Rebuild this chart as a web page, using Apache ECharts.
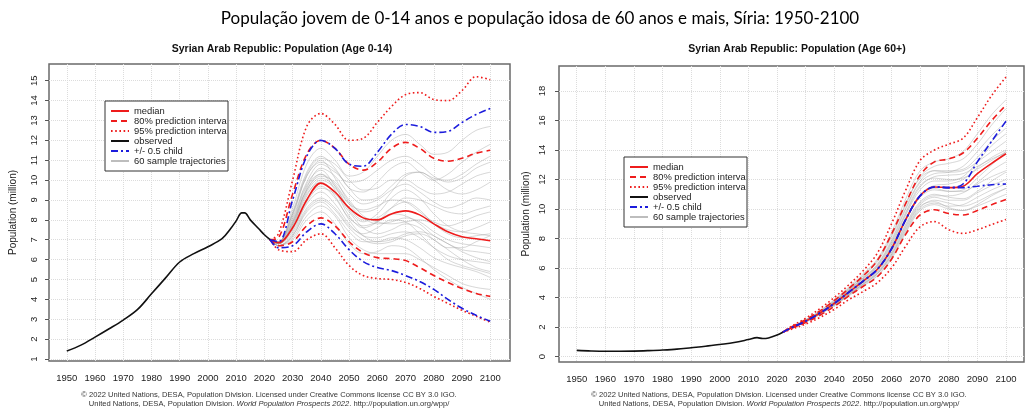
<!DOCTYPE html>
<html>
<head>
<meta charset="utf-8">
<script src="https://cdn.jsdelivr.net/npm/echarts@6/dist/echarts.min.js"></script>
<style>
html,body{margin:0;padding:0;background:#fff;}
#chart{width:1029px;height:411px;}
</style>
</head>
<body>
<div id="chart"></div>
<script>
// ---------- tick labels ----------
const xTicks = [1950,1960,1970,1980,1990,2000,2010,2020,2030,2040,2050,2060,2070,2080,2090,2100];
const yTicksYoung = [1,2,3,4,5,6,7,8,9,10,11,12,13,14,15];
const yTicksOld = [0,2,4,6,8,10,12,14,16,18];
const legendNames = ['median','80% prediction interval','95% prediction interval','observed','+/- 0.5 child','60 sample trajectories'];

// ---------- Age 0-14 (million) ----------
const obsYearsYoung = [1950,1955,1960,1965,1970,1975,1980,1985,1990,1995,2000,2005,2008,2010,2012,2013,2015,2018,2020,2022];
const obsYoung = [1.40,1.70,2.10,2.52,2.96,3.48,4.28,5.08,5.88,6.30,6.65,7.05,7.55,7.95,8.35,8.35,8.00,7.55,7.25,7.00];

const projYears = [2022,2025,2030,2035,2040,2045,2050,2055,2060,2065,2070,2075,2080,2085,2090,2095,2100];
const medianYoung  = [7.0,6.85,7.6,9.0,9.85,9.4,8.6,8.1,8.0,8.3,8.45,8.25,7.8,7.4,7.15,7.05,6.95];
const pi80HiYoung  = [7.0,7.1,9.3,11.3,12.0,11.6,10.8,10.5,10.9,11.6,11.9,11.6,11.1,10.95,11.1,11.35,11.5];
const pi80LoYoung  = [7.0,6.7,6.9,7.7,8.1,7.7,6.9,6.35,6.1,6.05,5.95,5.6,5.2,4.85,4.55,4.3,4.15];
const pi95HiYoung  = [7.0,7.3,10.0,12.7,13.35,12.8,12.0,12.1,12.9,13.7,14.3,14.4,14.05,14.0,14.5,15.2,15.05];
const pi95LoYoung  = [7.0,6.5,6.4,7.0,7.3,6.6,5.7,5.2,5.05,5.0,4.85,4.55,4.15,3.8,3.45,3.15,2.85];
const childHiYoung = [7.0,6.9,9.0,11.2,12.0,11.6,10.8,10.7,11.4,12.3,12.8,12.7,12.4,12.45,12.9,13.3,13.6];
const childLoYoung = [7.0,6.6,6.7,7.4,7.8,7.3,6.5,5.9,5.6,5.45,5.2,4.9,4.5,4.0,3.55,3.2,2.9];
const samplesYoung = [
  [7.0,6.8,7.8,9.6,10.6,10.2,9.3,8.8,9.0,9.5,9.8,9.4,8.9,8.6,8.8,9.1,9.0],
  [7.0,6.9,8.4,10.4,11.2,10.6,9.6,9.4,9.9,10.6,10.9,10.4,10.0,10.3,10.9,11.4,11.8],
  [7.0,6.7,7.2,8.4,8.9,8.3,7.4,6.9,6.9,7.1,7.0,6.6,6.1,5.8,5.6,5.4,5.1],
  [7.0,6.8,7.6,9.2,10.0,9.6,8.6,8.0,8.1,8.6,8.9,8.5,7.8,7.3,7.1,7.2,7.3],
  [7.0,6.9,8.1,9.9,10.8,10.4,9.9,10.0,10.5,11.0,11.2,10.8,10.2,9.9,10.1,10.6,10.9],
  [7.0,6.7,7.0,8.0,8.4,7.8,6.8,6.3,6.4,6.7,6.6,6.1,5.5,5.0,4.6,4.3,4.0],
  [7.0,6.8,7.9,9.7,10.3,9.5,8.2,7.6,7.9,8.6,9.1,9.0,8.7,8.4,8.3,8.5,8.7],
  [7.0,6.9,8.6,10.8,11.6,11.0,10.2,10.4,11.2,12.0,12.3,11.8,11.3,11.4,12.0,12.5,12.7],
  [7.0,6.8,7.4,8.8,9.4,8.8,7.8,7.2,7.1,7.3,7.4,7.1,6.6,6.2,6.0,5.9,5.8],
  [7.0,6.8,7.7,9.3,9.9,9.2,8.0,7.2,6.9,7.0,7.3,7.4,7.2,6.8,6.5,6.4,6.3],
  [7.0,6.9,8.2,10.2,11.0,10.1,8.9,8.4,8.6,9.4,10.2,10.4,10.0,9.5,9.3,9.5,9.9],
  [7.0,6.7,7.3,8.6,9.1,8.6,7.7,7.3,7.6,8.0,7.9,7.3,6.6,6.0,5.7,5.5,5.3],
  [7.0,6.8,7.9,9.5,10.2,9.9,9.0,8.2,7.9,7.8,7.9,8.0,7.8,7.5,7.4,7.6,7.9],
  [7.0,6.9,8.0,9.8,10.5,9.7,8.5,7.9,8.3,9.1,9.5,9.1,8.3,7.7,7.4,7.3,7.2],
  [7.0,6.8,7.5,8.9,9.6,9.3,8.4,7.6,7.3,7.5,7.8,7.6,7.0,6.6,6.6,6.9,7.2],
  [7.0,6.7,7.1,8.2,8.7,8.2,7.1,6.5,6.3,6.3,6.3,6.0,5.6,5.2,4.8,4.6,4.5],
  [7.0,6.9,8.3,10.2,10.9,10.5,9.6,9.0,9.1,9.7,10.3,10.4,10.1,10.0,10.3,10.8,11.2],
  [7.0,6.8,7.6,9.0,9.7,9.1,8.1,7.7,7.9,8.3,8.2,7.8,7.2,6.8,6.4,6.1,5.9],
  [7.0,6.8,7.7,9.4,10.1,9.7,8.8,8.5,8.7,9.0,8.9,8.4,7.9,7.7,7.9,8.2,8.4],
  [7.0,6.7,7.2,8.5,9.0,8.5,7.6,7.0,6.8,6.9,7.2,7.3,7.0,6.5,6.0,5.6,5.4],
  [7.0,6.9,8.3,10.3,11.1,10.8,10.0,9.5,9.6,10.0,10.0,9.6,9.3,9.4,9.8,10.2,10.4],
  [7.0,6.8,7.8,9.5,10.3,9.8,8.8,8.1,7.8,7.9,8.1,7.9,7.4,7.0,6.8,6.7,6.6]
];

// ---------- Age 60+ (million) ----------
const obsYearsOld = [1950,1955,1960,1965,1970,1975,1980,1985,1990,1995,2000,2005,2010,2013,2015,2017,2020,2022];
const obsOld = [0.42,0.38,0.36,0.36,0.37,0.40,0.44,0.50,0.60,0.70,0.82,0.95,1.15,1.28,1.22,1.26,1.46,1.65];
const medianOld  = [1.65,1.95,2.4,2.95,3.6,4.35,5.1,5.9,7.3,9.3,10.9,11.5,11.45,11.55,12.4,13.1,13.75];
const pi80HiOld  = [1.65,2.0,2.5,3.1,3.8,4.6,5.45,6.5,8.3,10.4,12.3,13.2,13.4,13.8,14.8,16.0,17.05];
const pi80LoOld  = [1.65,1.9,2.3,2.8,3.4,4.1,4.75,5.4,6.6,8.3,9.6,9.95,9.7,9.6,9.9,10.3,10.65];
const pi95HiOld  = [1.65,2.05,2.6,3.25,4.0,4.85,5.8,7.0,9.0,11.3,13.3,14.0,14.4,14.8,16.2,17.7,18.95];
const pi95LoOld  = [1.65,1.85,2.2,2.65,3.2,3.85,4.4,5.0,6.0,7.5,8.8,9.15,8.6,8.35,8.6,8.95,9.3];
const childHiOld = [1.65,1.95,2.4,2.95,3.6,4.35,5.1,5.9,7.3,9.3,10.9,11.5,11.45,11.7,13.2,14.6,15.95];
const childLoOld = [1.65,1.95,2.4,2.95,3.6,4.35,5.1,5.9,7.3,9.3,10.9,11.5,11.45,11.45,11.55,11.65,11.7];
const samplesOld = [
  [1.65,1.97,2.45,3.0,3.7,4.5,5.3,6.2,7.8,10.0,11.8,12.4,12.5,12.9,13.9,15.0,15.9],
  [1.65,1.93,2.35,2.9,3.5,4.2,4.9,5.6,6.9,8.8,10.3,10.8,10.6,10.6,11.1,11.6,12.0],
  [1.65,1.96,2.42,2.98,3.65,4.45,5.2,6.05,7.5,9.6,11.3,11.9,11.9,12.2,13.2,14.3,15.1],
  [1.65,1.94,2.38,2.92,3.55,4.25,5.0,5.75,7.1,9.0,10.5,11.0,10.8,10.7,11.2,11.9,12.5],
  [1.65,1.98,2.48,3.05,3.75,4.6,5.45,6.4,8.1,10.3,12.2,12.9,13.1,13.4,14.4,15.7,16.8],
  [1.65,1.92,2.33,2.85,3.45,4.1,4.75,5.45,6.6,8.4,9.9,10.3,10.0,9.9,10.2,10.6,11.0],
  [1.65,1.95,2.41,2.96,3.62,4.38,5.15,5.95,7.4,9.4,11.0,11.6,11.7,12.0,12.8,13.5,14.0],
  [1.65,1.96,2.43,2.99,3.68,4.48,5.25,6.1,7.6,9.7,11.5,12.2,12.3,12.4,12.9,13.4,13.8],
  [1.65,1.94,2.37,2.91,3.53,4.22,4.95,5.7,7.0,8.9,10.4,10.9,10.9,11.1,11.7,12.2,12.6],
  [1.65,1.97,2.46,3.02,3.72,4.55,5.35,6.25,7.9,10.1,11.9,12.6,12.6,12.7,13.5,14.6,15.5],
  [1.65,1.93,2.36,2.89,3.5,4.18,4.88,5.6,6.8,8.6,10.1,10.6,10.4,10.2,10.5,11.0,11.4],
  [1.65,1.95,2.39,2.94,3.58,4.32,5.08,5.85,7.2,9.2,10.8,11.3,11.2,11.2,11.8,12.6,13.2],
  [1.65,1.99,2.5,3.1,3.85,4.7,5.6,6.6,8.4,10.7,12.6,13.2,13.4,13.9,15.1,16.4,17.4],
  [1.65,1.94,2.36,2.9,3.52,4.2,4.9,5.65,6.9,8.7,10.2,10.5,10.1,9.9,10.3,10.9,11.4],
  [1.65,1.96,2.44,3.0,3.7,4.5,5.3,6.15,7.7,9.8,11.6,12.1,12.0,12.1,12.7,13.3,13.9],
  [1.65,1.95,2.4,2.95,3.6,4.36,5.12,5.92,7.35,9.35,10.95,11.4,11.2,11.3,12.1,13.0,13.9],
  [1.65,1.98,2.5,3.08,3.8,4.62,5.5,6.5,8.2,10.4,12.1,12.6,12.5,12.6,13.2,13.9,14.6],
  [1.65,1.93,2.34,2.86,3.47,4.15,4.82,5.5,6.7,8.5,10.0,10.4,10.2,10.3,10.8,11.3,11.7]
];

// ---------- build ----------
const FONT = '"Liberation Sans", Arial, sans-serif';
const RED = '#ee1c1c', BLUE = '#1c1cdc';
function pairs(xs, ys){ return xs.map((x,i)=>[x, ys[i]]); }
function mk(name, idx, xs, ys, color, width, type, z, opacity){
  return {
    name: name, type: 'line', xAxisIndex: idx, yAxisIndex: idx,
    data: pairs(xs, ys), symbol: 'none', smooth: 0.35, silent: true, z: z,
    lineStyle: {color: color, width: width, type: type, opacity: opacity == null ? 1 : opacity},
    itemStyle: {color: color}
  };
}
function panelSeries(idx, obsX, obsV, med, p80h, p80l, p95h, p95l, ch, cl, samples){
  const s = [];
  samples.forEach(v => s.push(mk('60 sample trajectories', idx, projYears, v, '#a0a0a0', 1, 'solid', 2, 0.42)));
  s.push(mk('95% prediction interval', idx, projYears, p95h, RED, 1.6, [1.6,2.6], 4));
  s.push(mk('95% prediction interval', idx, projYears, p95l, RED, 1.6, [1.6,2.6], 4));
  s.push(mk('80% prediction interval', idx, projYears, p80h, RED, 1.6, [6,4], 4));
  s.push(mk('80% prediction interval', idx, projYears, p80l, RED, 1.6, [6,4], 4));
  s.push(mk('median', idx, projYears, med, RED, 1.6, 'solid', 5));
  s.push(mk('+/- 0.5 child', idx, projYears, ch, BLUE, 1.6, [7,3,2,3], 6));
  s.push(mk('+/- 0.5 child', idx, projYears, cl, BLUE, 1.6, [7,3,2,3], 6));
  s.push(mk('observed', idx, obsX, obsV, '#111', 1.6, 'solid', 7));
  return s;
}

function xAxisCfg(idx, min, max){
  return {
    type: 'value', gridIndex: idx, min: min, max: max,
    axisLine: {show: false},
    axisTick: {show: false, customValues: xTicks},
    axisLabel: {customValues: xTicks, margin: 12, fontSize: 9.5, color: '#222', fontFamily: FONT,
                formatter: v => String(v)},
    splitLine: {show: true, lineStyle: {color: '#dcdcdc', type: [1,1], width: 1}}
  };
}
function yAxisCfg(idx, min, max, ticks, nameGap, margin){
  return {
    type: 'value', gridIndex: idx, min: min, max: max,
    name: 'Population (million)', nameLocation: 'middle', nameGap: nameGap,
    nameTextStyle: {fontSize: 10, color: '#222', fontFamily: FONT},
    axisLine: {show: false},
    axisTick: {show: true, inside: false, length: 4, customValues: ticks, lineStyle: {color: '#555'}},
    axisLabel: {customValues: ticks, rotate: 90, margin: margin, fontSize: 9.5, color: '#222', fontFamily: FONT,
                formatter: v => String(v)},
    splitLine: {show: true, lineStyle: {color: '#dcdcdc', type: [1,1], width: 1}}
  };
}
function legendCfg(left, top){
  return {
    left: left, top: top, orient: 'vertical',
    data: legendNames.map(n => n === '60 sample trajectories' ? {name: n, lineStyle: {opacity: 1, color: '#bdbdbd'}} : {name: n}),
    itemWidth: 18, itemHeight: 10, itemGap: 0,
    padding: [5, 0, 5, 5],
    itemStyle: {opacity: 0},
    backgroundColor: '#fff', borderColor: '#333', borderWidth: 1, borderRadius: 0,
    selectedMode: false,
    textStyle: {fontSize: 9.4, lineHeight: 10, color: '#222', fontFamily: FONT, width: 94, overflow: 'truncate', ellipsis: ''}
  };
}

const footerText = '{a|\u00a9 2022 United Nations, DESA, Population Division. Licensed under Creative Commons license CC BY 3.0 IGO.}\n' +
  '{a|United Nations, DESA, Population Division. }{i|World Population Prospects 2022}{a|. http://population.un.org/wpp/}';
const footerStyle = {
  fontWeight: 'normal',
  rich: {
    a: {fontSize: 7.6, lineHeight: 8.5, color: '#333', fontFamily: FONT, fontWeight: 'normal'},
    i: {fontSize: 7.6, lineHeight: 8.5, color: '#333', fontFamily: FONT, fontWeight: 'normal', fontStyle: 'italic'}
  }
};

const option = {
  animation: false,
  backgroundColor: '#fff',
  title: [
    {text: 'População jovem de 0-14 anos e população idosa de 60 anos e mais, Síria: 1950-2100',
     left: 535, top: 5, textAlign: 'center',
     textStyle: {fontSize: 17, fontWeight: 'normal', color: '#000', fontFamily: 'Lato, "Open Sans", sans-serif'}},
    {text: 'Syrian Arab Republic: Population (Age 0-14)', left: 277, top: 39, textAlign: 'center',
     textStyle: {fontSize: 10.5, fontWeight: 'bold', color: '#111', fontFamily: FONT}},
    {text: 'Syrian Arab Republic: Population (Age 60+)', left: 792, top: 39, textAlign: 'center',
     textStyle: {fontSize: 10.5, fontWeight: 'bold', color: '#111', fontFamily: FONT}},
    {text: footerText, left: 269, top: 391, textAlign: 'center', padding: 0, textStyle: footerStyle},
    {text: footerText, left: 779, top: 391, textAlign: 'center', padding: 0, textStyle: footerStyle}
  ],
  legend: [legendCfg(105, 101), legendCfg(624, 157)],
  grid: [
    {left: 49, top: 64, width: 461, height: 297, show: true, borderColor: '#6a6a6a', borderWidth: 1.5, backgroundColor: 'transparent'},
    {left: 559, top: 66, width: 465, height: 296, show: true, borderColor: '#6a6a6a', borderWidth: 1.5, backgroundColor: 'transparent'}
  ],
  xAxis: [xAxisCfg(0, 1943.7, 2107.0), xAxisCfg(1, 1943.8, 2106.3)],
  yAxis: [yAxisCfg(0, 0.9, 15.84, yTicksYoung, 31, 10), yAxisCfg(1, -0.37, 19.7, yTicksOld, 28, 12)],
  series: [].concat(
    panelSeries(0, obsYearsYoung, obsYoung, medianYoung, pi80HiYoung, pi80LoYoung, pi95HiYoung, pi95LoYoung, childHiYoung, childLoYoung, samplesYoung),
    panelSeries(1, obsYearsOld, obsOld, medianOld, pi80HiOld, pi80LoOld, pi95HiOld, pi95LoOld, childHiOld, childLoOld, samplesOld)
  )
};

const chart = echarts.init(document.getElementById('chart'), null, {renderer: 'canvas'});
chart.setOption(option);
</script>
</body>
</html>
